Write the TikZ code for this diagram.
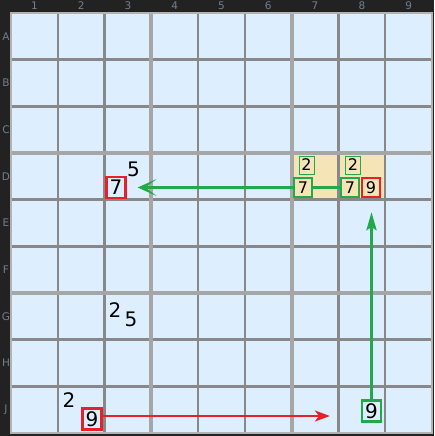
\documentclass[tikz,border=0pt]{standalone}
\usepackage{fontspec}
\setmainfont{DejaVu Sans}
\usetikzlibrary{arrows.meta}
\definecolor{bgdark}{HTML}{222222}
\definecolor{cellblue}{HTML}{DDEEFF}
\definecolor{candtan}{HTML}{F4E4B6}
\definecolor{linkgreen}{HTML}{22AA4A}
\definecolor{linkred}{HTML}{E8202A}
\definecolor{lblgray}{HTML}{708090}
\definecolor{thingray}{HTML}{888888}
\begin{document}
\begin{tikzpicture}[x=1pt,y=-1pt,
    lbl/.style={font=\fontsize{10.5}{10.5}\selectfont,text=lblgray,inner sep=0pt},
    dig/.style={font=\fontsize{20}{20}\selectfont,inner sep=0pt},
    bigbox/.style={dig,draw=#1,line width=2.2pt,fill=cellblue,minimum width=19pt,minimum height=21pt},
    cand/.style={font=\fontsize{16}{16}\selectfont,inner sep=0pt,fill=candtan,draw=#1},
    weak/.style={cand=linkgreen,line width=1pt,minimum width=15pt,minimum height=18pt},
    strong/.style={cand=#1,line width=2.2pt,minimum width=18pt,minimum height=19pt}]
    \useasboundingbox (0,0) rectangle (434,436);
    \fill[bgdark] (0,0) rectangle (434,436);
    \fill[cellblue] (11,13) rectangle (432,433);
    \fill[candtan] (291.8,153) rectangle (385.4,199.7);
    % grid
    \foreach \k in {1,2,4,5,7,8} {
        \draw[thingray,line width=2.5pt] ({11+46.78*\k},13) -- ({11+46.78*\k},433);
        \draw[thingray,line width=2.5pt] (11,{13+46.67*\k}) -- (432,{13+46.67*\k});
    }
    \foreach \k in {3,6} {
        \draw[gray!70,line width=4pt] ({11+46.78*\k},13) -- ({11+46.78*\k},433);
        \draw[gray!70,line width=4pt] (11,{13+46.67*\k}) -- (432,{13+46.67*\k});
    }
    \draw[gray!60,line width=2.5pt] (11,13) rectangle (432,433);
    \foreach \c [count=\k] in {1,...,9}
        \node[lbl] (col\c) at ({11+46.78*(\k-0.5)},6) {\c};
    \foreach \r [count=\k] in {A,B,C,D,E,F,G,H,J}
        \node[lbl] (row\r) at (6,{13+46.67*(\k-0.5)}) {\r};

    % digits
    \node[dig] (dfive) at (133.5,169) {5};
    \node[bigbox=linkred] (dseven) at (116,187.5) {7};
    \node[dig] (gtwo) at (115,310) {2};
    \node[dig] (gfive) at (131,319.5) {5};
    \node[dig] (jtwo) at (69,400.5) {2};
    \node[bigbox=linkred] (jnine) at (92,419) {9};
    \node[bigbox=linkgreen] (jeightnine) at (371.5,411) {9};

    \node[weak] (dseventwo) at (306.5,165) {2};
    \node[strong=linkgreen] (dsevenseven) at (303,187.5) {7};
    \node[weak] (deighttwo) at (353,165) {2};
    \node[strong=linkgreen] (deightseven) at (350,187.5) {7};
    \node[strong=linkred] (deightnine) at (371,187.5) {9};

    % links
    \draw[linkgreen,line width=3.5pt,-{Stealth[length=19pt,width=17pt,inset=11pt]},shorten >=11pt]
        (dsevenseven.west) -- (dseven.east);
    \draw[linkgreen,line width=3pt] (dsevenseven.east) -- (deightseven.west);
    \draw[linkgreen,line width=3pt,-{Stealth[length=18pt,width=10pt,inset=3pt]},shorten >=14pt]
        (jeightnine.north) -- (deightnine.south -| jeightnine.north);
    \draw[linkred,line width=2.5pt,-{Stealth[length=15pt,width=11pt,inset=4pt]},shorten >=31pt]
        ([yshift=3pt]jnine.east) -- ([yshift=3pt]jnine.east -| jeightnine.west);
\end{tikzpicture}
\end{document}
